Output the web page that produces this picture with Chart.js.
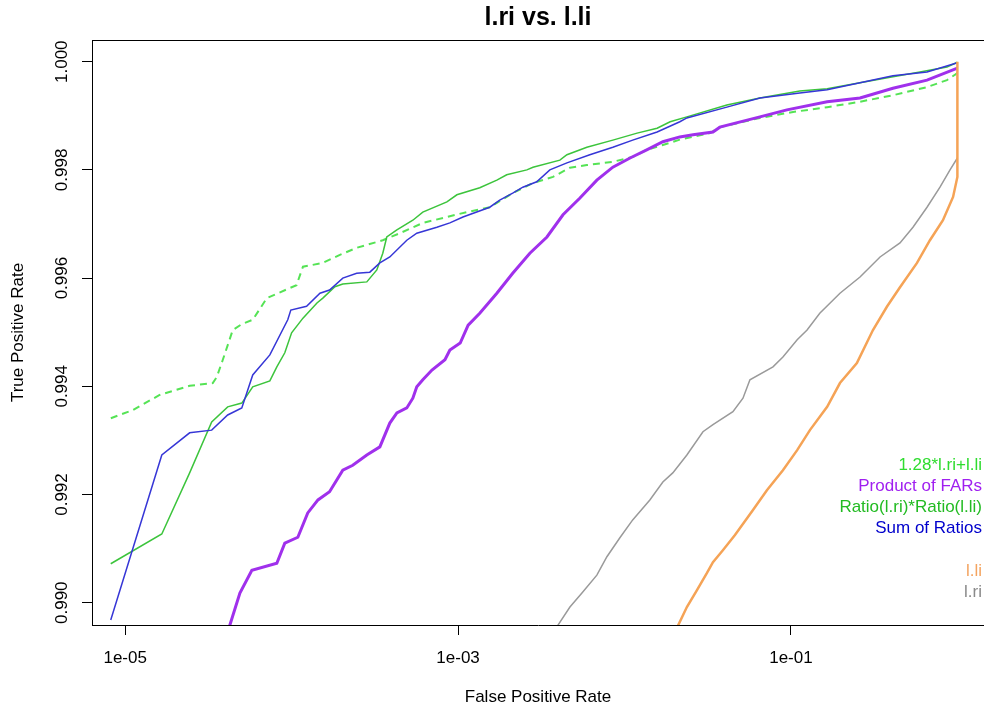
<!DOCTYPE html>
<html>
<head>
<meta charset="utf-8">
<script src="https://cdn.jsdelivr.net/npm/chart.js@4.4.1/dist/chart.umd.min.js"></script>
<style>
  html, body { margin: 0; padding: 0; background: #fff; overflow: hidden; }
  #wrap { width: 984px; height: 712px; }
</style>
</head>
<body>
<div id="wrap"><canvas id="roc" width="984" height="712"></canvas></div>
<script>
// ROC curves: false positive rate (log x) vs true positive rate
const fprCombo = [8.2e-6, 1.11e-5, 1.61e-5, 2.44e-5, 3.36e-5, 3.55e-5, 3.86e-5, 4.43e-5, 5.02e-5, 5.84e-5,
  7.10e-5, 1.07e-4, 1.17e-4, 1.54e-4, 1.95e-4, 2.46e-4, 3.53e-4, 4.47e-4, 6.14e-4, 8.57e-4,
  1.13e-3, 1.55e-3, 2.13e-3, 2.82e-3, 3.72e-3, 4.70e-3, 5.94e-3, 8.51e-3, 0.0112, 0.0136,
  0.0170, 0.0215, 0.0326, 0.0374, 0.0651, 0.103, 0.165, 0.260, 0.410, 0.657, 0.866, 1.0];
const tprCombo = [0.99341, 0.99356, 0.99384, 0.99401, 0.99406, 0.99417, 0.99449, 0.99504, 0.99515, 0.99523,
  0.99563, 0.99587, 0.99621, 0.99628, 0.99643, 0.99656, 0.99670, 0.99683, 0.99702, 0.99713,
  0.99722, 0.99731, 0.99757, 0.99776, 0.99787, 0.99804, 0.99809, 0.99815, 0.99824, 0.99837,
  0.99846, 0.99856, 0.99868, 0.99879, 0.99896, 0.99907, 0.99916, 0.99926, 0.99938, 0.99953, 0.99966, 0.99979];

const fprProduct = [4.20e-5, 4.89e-5, 5.77e-5, 8.15e-5, 9.10e-5, 1.09e-4, 1.25e-4, 1.44e-4, 1.69e-4, 2.03e-4,
  2.33e-4, 2.83e-4, 3.39e-4, 3.89e-4, 4.29e-4, 4.92e-4, 5.35e-4, 5.65e-4, 6.14e-4, 6.97e-4,
  8.34e-4, 8.93e-4, 1.03e-3, 1.15e-3, 1.35e-3, 1.71e-3, 2.13e-3, 2.70e-3, 3.42e-3, 4.27e-3,
  5.40e-3, 6.82e-3, 8.51e-3, 0.0108, 0.0136, 0.0170, 0.0215, 0.0258, 0.0340, 0.0374,
  0.0651, 0.0946, 0.165, 0.260, 0.410, 0.657, 1.0];
const tprProduct = [0.98953, 0.99018, 0.99060, 0.99073, 0.99110, 0.99121, 0.99166, 0.99190, 0.99205, 0.99245,
  0.99254, 0.99273, 0.99288, 0.99332, 0.99351, 0.99360, 0.99378, 0.99399, 0.99412, 0.99430,
  0.99449, 0.99467, 0.99480, 0.99513, 0.99535, 0.99572, 0.99609, 0.99646, 0.99676, 0.99717,
  0.99748, 0.99781, 0.99805, 0.99822, 0.99837, 0.99852, 0.99861, 0.99865, 0.99870, 0.99879,
  0.99898, 0.99911, 0.99926, 0.99933, 0.99951, 0.99966, 0.99988];

const fprRatio = [8.19e-6, 1.66e-5, 2.44e-5, 3.31e-5, 4.13e-5, 5.02e-5, 5.84e-5, 7.40e-5, 8.15e-5, 9.10e-5,
  1.00e-4, 1.17e-4, 1.42e-4, 1.54e-4, 1.82e-4, 2.03e-4, 2.83e-4, 3.25e-4, 3.53e-4, 3.73e-4,
  4.29e-4, 5.35e-4, 6.14e-4, 8.57e-4, 9.84e-4, 1.35e-3, 1.71e-3, 1.96e-3, 2.59e-3, 2.82e-3,
  4.09e-3, 4.51e-3, 5.94e-3, 8.51e-3, 0.0119, 0.0157, 0.0188, 0.0237, 0.0412, 0.0651,
  0.113, 0.165, 0.260, 0.410, 0.596, 0.866, 1.0];
const tprRatio = [0.99072, 0.99127, 0.99240, 0.99334, 0.99362, 0.99369, 0.99399, 0.99410, 0.99436, 0.99462,
  0.99499, 0.99526, 0.99554, 0.99563, 0.99584, 0.99589, 0.99593, 0.99615, 0.99646, 0.99676,
  0.99689, 0.99707, 0.99722, 0.99741, 0.99754, 0.99767, 0.99781, 0.99791, 0.99800, 0.99805,
  0.99818, 0.99828, 0.99842, 0.99855, 0.99868, 0.99877, 0.99889, 0.99898, 0.99920, 0.99933,
  0.99946, 0.99950, 0.99961, 0.99972, 0.99981, 0.99990, 0.99999];

const fprSum = [8.19e-6, 1.66e-5, 2.44e-5, 3.31e-5, 4.13e-5, 5.02e-5, 5.84e-5, 7.40e-5, 9.48e-5, 9.89e-5,
  1.23e-4, 1.48e-4, 1.69e-4, 2.03e-4, 2.46e-4, 2.95e-4, 3.39e-4, 3.89e-4, 4.92e-4, 5.65e-4,
  7.46e-4, 8.93e-4, 1.07e-3, 1.55e-3, 1.78e-3, 2.13e-3, 2.45e-3, 2.97e-3, 3.56e-3, 4.51e-3,
  6.19e-3, 8.51e-3, 0.0112, 0.0157, 0.0215, 0.0237, 0.0412, 0.0651, 0.113, 0.165,
  0.260, 0.410, 0.657, 1.0];
const tprSum = [0.98968, 0.99273, 0.99314, 0.99319, 0.99347, 0.99360, 0.99421, 0.99458, 0.99523, 0.99541,
  0.99548, 0.99572, 0.99578, 0.99600, 0.99609, 0.99611, 0.99628, 0.99639, 0.99670, 0.99683,
  0.99694, 0.99702, 0.99713, 0.99731, 0.99744, 0.99757, 0.99768, 0.99778, 0.99800, 0.99813,
  0.99828, 0.99842, 0.99855, 0.99870, 0.99889, 0.99896, 0.99916, 0.99933, 0.99942, 0.99948,
  0.99961, 0.99974, 0.99981, 0.99998];

const fprLli = [0.0204, 0.0237, 0.0272, 0.0313, 0.0340, 0.0390, 0.0461, 0.0590, 0.0717, 0.0895,
  0.109, 0.130, 0.165, 0.197, 0.249, 0.311, 0.377, 0.452, 0.572, 0.684, 0.819, 0.942, 1.0, 1.0];
const tprLli = [0.98950, 0.98992, 0.99023, 0.99055, 0.99075, 0.99097, 0.99125, 0.99171, 0.99208, 0.99245,
  0.99282, 0.99319, 0.99362, 0.99406, 0.99443, 0.99504, 0.99547, 0.99583, 0.99628, 0.99670,
  0.99707, 0.99750, 0.99787, 1.0];

const fprLri = [3.82e-3, 4.70e-3, 5.55e-3, 6.82e-3, 7.84e-3, 9.38e-3, 0.0112, 0.0142, 0.0170, 0.0195,
  0.0237, 0.0296, 0.0340, 0.0448, 0.0515, 0.0567, 0.0780, 0.0895, 0.109, 0.125,
  0.149, 0.197, 0.260, 0.343, 0.452, 0.541, 0.657, 0.786, 0.903, 1.0];
const tprLri = [0.98950, 0.98992, 0.99018, 0.99051, 0.99085, 0.99120, 0.99153, 0.99190, 0.99223, 0.99240,
  0.99273, 0.99316, 0.99329, 0.99353, 0.99378, 0.99412, 0.99436, 0.99454, 0.99486, 0.99504,
  0.99535, 0.99572, 0.99602, 0.99639, 0.99665, 0.99694, 0.99731, 0.99768, 0.99800, 0.99822];

const xTickValues = [1e-5, 1e-3, 1e-1];
const xTickLabels = ['1e-05', '1e-03', '1e-01'];
const yTickValues = [0.990, 0.992, 0.994, 0.996, 0.998, 1.000];
const yTickLabels = ['0.990', '0.992', '0.994', '0.996', '0.998', '1.000'];

const legendLabels = ['1.28*l.ri+l.li', 'Product of FARs', 'Ratio(l.ri)*Ratio(l.li)', 'Sum of Ratios', '', 'l.li', 'l.ri'];
const legendColors = ['#2fdc2f', '#a020f0', '#22bb22', '#0000cc', '#fff', '#f4a460', '#8a8a8a'];

const plotFont = '"Liberation Sans", Arial, Helvetica, sans-serif';

function pts(xs, ys) {
  return xs.map((x, i) => ({ x: x, y: ys[i] }));
}

function line(label, xs, ys, color, width, dash) {
  return {
    label: label,
    data: pts(xs, ys),
    borderColor: color,
    backgroundColor: color,
    borderWidth: width,
    borderDash: dash || [],
    pointRadius: 0,
    tension: 0,
    fill: false,
    clip: 0
  };
}

// R-style extras: top frame edge, rotated y labels, text-only legend
const rStyle = {
  id: 'rStyle',
  afterDraw(chart) {
    const { ctx, chartArea, scales } = chart;
    ctx.save();
    ctx.strokeStyle = '#000';
    ctx.lineWidth = 1;
    ctx.beginPath();
    ctx.moveTo(chartArea.left, chartArea.top + 0.5);
    ctx.lineTo(chartArea.right, chartArea.top + 0.5);
    ctx.stroke();

    ctx.font = '17px ' + plotFont;
    ctx.fillStyle = '#000';
    ctx.textAlign = 'center';
    ctx.textBaseline = 'middle';
    yTickValues.forEach((v, i) => {
      const y = scales.y.getPixelForValue(v);
      ctx.save();
      ctx.translate(62, y);
      ctx.rotate(-Math.PI / 2);
      ctx.fillText(yTickLabels[i], 0, 0);
      ctx.restore();
    });

    ctx.textAlign = 'right';
    legendLabels.forEach((t, i) => {
      if (!t) return;
      ctx.fillStyle = legendColors[i];
      ctx.fillText(t, 982, 465 + i * 21.2);
    });
    ctx.restore();
  }
};

new Chart(document.getElementById('roc'), {
  type: 'line',
  data: {
    datasets: [
      line('l.li', fprLli, tprLli, '#f5a356', 2.5),
      line('Sum of Ratios', fprSum, tprSum, '#3636d6', 1.5),
      line('Ratio(l.ri)*Ratio(l.li)', fprRatio, tprRatio, '#3cc43c', 1.5),
      line('Product of FARs', fprProduct, tprProduct, '#a030ec', 3),
      line('1.28*l.ri+l.li', fprCombo, tprCombo, '#55e355', 2, [7, 5]),
      line('l.ri', fprLri, tprLri, '#9a9a9a', 1.5)
    ]
  },
  options: {
    responsive: false,
    animation: false,
    layout: { padding: 0 },
    plugins: {
      legend: { display: false },
      tooltip: { enabled: false },
      title: {
        display: true,
        fullSize: false,
        text: 'l.ri vs. l.li',
        color: '#000',
        font: { family: plotFont, size: 25, weight: 'bold' },
        padding: { top: 3, bottom: 7 }
      }
    },
    scales: {
      x: {
        type: 'logarithmic',
        min: 6.32e-6,
        max: 1.445,
        afterBuildTicks: (s) => { s.ticks = xTickValues.map(v => ({ value: v })); },
        afterFit: (s) => { s.height = 87; },
        grid: { drawOnChartArea: false, drawTicks: true, tickLength: 10, color: '#000', tickColor: '#000' },
        border: { display: true, color: '#000', width: 1 },
        ticks: {
          autoSkip: false,
          maxRotation: 0,
          padding: 13,
          color: '#000',
          font: { family: plotFont, size: 17 },
          callback: (v, i) => xTickLabels[i]
        },
        title: {
          display: true,
          text: 'False Positive Rate',
          color: '#000',
          font: { family: plotFont, size: 17 },
          padding: { top: 0, bottom: 4 }
        }
      },
      y: {
        type: 'linear',
        min: 0.989588,
        max: 1.000401,
        afterBuildTicks: (s) => { s.ticks = yTickValues.map(v => ({ value: v })); },
        afterFit: (s) => { s.width = 92; },
        grid: { drawOnChartArea: false, drawTicks: true, tickLength: 10, color: '#000', tickColor: '#000' },
        border: { display: true, color: '#000', width: 1 },
        ticks: { display: false },
        title: {
          display: true,
          text: 'True Positive Rate',
          color: '#000',
          font: { family: plotFont, size: 17 },
          padding: { top: 8, bottom: 0 }
        }
      }
    }
  },
  plugins: [rStyle]
});
</script>
</body>
</html>
